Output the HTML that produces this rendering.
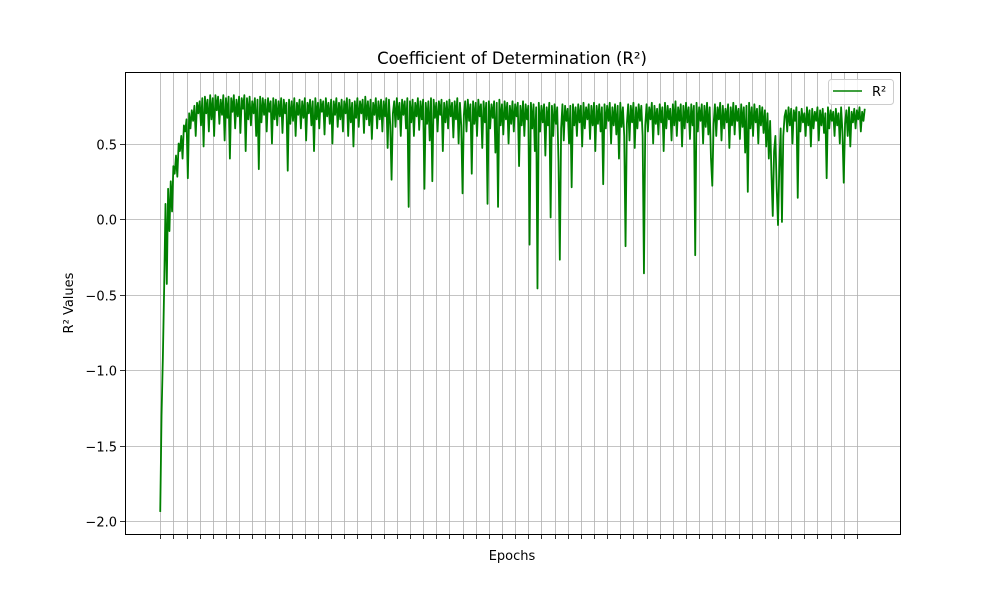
<!DOCTYPE html>
<html><head><meta charset="utf-8"><style>
html,body{margin:0;padding:0;background:#fff;}
svg{display:block;font-family:"DejaVu Sans","Liberation Sans",sans-serif;}
</style></head><body>
<svg id="chart" width="1000" height="600" viewBox="0 0 1000 600">
<rect x="0" y="0" width="1000" height="600" fill="#fff"/>
<g id="grid"></g>
<g id="series"></g>
<rect x="125.5" y="72.5" width="775" height="462" fill="none" stroke="#000" stroke-width="1"/>
<g id="ticks"></g>
<text x="512" y="64" text-anchor="middle" font-size="16.5">Coefficient of Determination (R²)</text>
<text x="512" y="560" text-anchor="middle" font-size="13">Epochs</text>
<text x="73" y="303" text-anchor="middle" font-size="13" transform="rotate(-90 73 303)">R² Values</text>
<g>
<rect x="828.5" y="79.5" width="65" height="25" rx="3" fill="#fff" fill-opacity="0.8" stroke="#ccc"/>
<line x1="833" y1="91" x2="862" y2="91" stroke="#008000" stroke-width="1.5"/>
<text x="872" y="96" font-size="13">R²</text>
</g>
</svg>
<script>
const yTicks = [0.5, 0.0, -0.5, -1.0, -1.5, -2.0];
const yTickLabels = ["0.5", "0.0", "\u22120.5", "\u22121.0", "\u22121.5", "\u22122.0"];
const xTickStep = 10;
const xTickCount = 54;
const r2Values = [
-1.94,-1.30,-0.92,-0.45,0.10,-0.43,0.20,-0.08,0.25,0.05,0.35,0.30,0.42,0.28,0.50,0.45,0.55,0.40,0.62,0.58,0.66,0.27,0.70,0.60,0.72,0.65,0.75,0.55,0.77,0.70,
0.78,0.62,0.80,0.48,0.81,0.70,0.79,0.58,0.82,0.66,
0.80,0.55,0.82,0.72,0.81,0.63,0.79,0.69,0.82,0.52,
0.80,0.67,0.81,0.40,0.80,0.71,0.82,0.60,0.79,0.68,
0.81,0.57,0.80,0.73,0.82,0.45,0.80,0.66,0.81,0.62,
0.78,0.70,0.80,0.55,0.79,0.33,0.81,0.64,0.80,0.69,
0.79,0.58,0.80,0.71,0.78,0.50,0.80,0.66,0.79,0.62,
0.78,0.68,0.80,0.57,0.79,0.70,0.77,0.32,0.79,0.63,
0.78,0.65,0.80,0.55,0.77,0.69,0.79,0.60,0.78,0.67,
0.80,0.52,0.77,0.70,0.79,0.62,0.78,0.45,0.80,0.66,
0.77,0.60,0.79,0.71,0.78,0.56,0.80,0.68,0.77,0.63,
0.79,0.50,0.78,0.69,0.80,0.61,0.77,0.66,0.79,0.58,
0.78,0.70,0.80,0.55,0.79,0.64,0.77,0.48,0.78,0.67,
0.80,0.61,0.78,0.70,0.79,0.57,0.81,0.66,0.78,0.62,
0.79,0.53,0.77,0.69,0.80,0.60,0.78,0.66,0.79,0.58,
0.78,0.68,0.80,0.47,0.79,0.62,0.26,0.70,0.78,0.61,
0.80,0.66,0.77,0.55,0.79,0.69,0.78,0.60,0.80,0.08,
0.78,0.64,0.79,0.55,0.77,0.68,0.80,0.59,0.78,0.66,
0.79,0.20,0.77,0.63,0.78,0.52,0.80,0.25,0.79,0.67,
0.77,0.58,0.78,0.69,0.79,0.45,0.77,0.64,0.78,0.60,
0.79,0.68,0.77,0.54,0.78,0.66,0.80,0.50,0.77,0.62,
0.17,0.69,0.78,0.58,0.79,0.65,0.76,0.30,0.78,0.63,
0.77,0.55,0.79,0.68,0.76,0.47,0.78,0.64,0.77,0.10,
0.78,0.60,0.76,0.67,0.78,0.44,0.77,0.08,0.79,0.62,
0.76,0.56,0.78,0.66,0.77,0.50,0.75,0.63,0.78,0.58,
0.76,0.68,0.77,0.35,0.75,0.62,0.78,0.55,0.76,0.66,
0.75,-0.17,0.77,0.60,0.76,0.45,0.74,-0.46,0.77,0.58,
0.75,0.64,0.76,0.42,0.74,0.62,0.77,0.01,0.75,0.55,
0.76,0.63,0.74,0.38,-0.27,0.60,0.76,0.52,0.75,0.65,
0.73,0.50,0.75,0.21,0.76,0.62,0.74,0.55,0.76,0.64,
0.75,0.48,0.77,0.60,0.74,0.66,0.76,0.53,0.75,0.62,
0.77,0.45,0.75,0.63,0.76,0.58,0.74,0.23,0.76,0.60,
0.75,0.65,0.77,0.50,0.74,0.62,0.76,0.56,0.75,0.40,
0.77,0.61,0.74,0.55,-0.18,0.63,0.76,0.52,0.75,0.64,
0.77,0.47,0.74,0.60,0.76,0.65,0.75,0.55,-0.36,0.62,
0.76,0.58,0.74,0.66,0.77,0.50,0.75,0.63,0.73,0.56,
0.76,0.64,0.74,0.45,0.77,0.60,0.75,0.66,0.73,0.52,
0.76,0.62,0.78,0.55,0.74,0.65,0.76,0.48,0.75,0.60,
0.77,0.64,0.74,0.53,0.76,0.62,0.75,-0.24,0.77,0.58,
0.74,0.65,0.76,0.50,0.75,0.61,0.77,0.56,0.74,0.40,
0.22,0.63,0.76,0.55,0.74,0.66,0.77,0.52,0.75,0.60,
0.73,0.64,0.76,0.47,0.74,0.62,0.77,0.56,0.75,0.65,
0.73,0.53,0.76,0.61,0.74,0.44,0.75,0.18,0.77,0.60,
0.74,0.55,0.76,0.64,0.73,0.50,0.75,0.62,0.74,0.57,
0.72,0.48,0.70,0.40,0.65,0.30,0.02,0.45,0.55,0.20,
-0.04,0.35,0.60,-0.02,0.55,0.68,0.72,0.58,0.74,0.62,
0.73,0.50,0.72,0.65,0.74,0.14,0.71,0.58,0.73,0.64,
0.70,0.55,0.74,0.62,0.72,0.48,0.73,0.60,0.71,0.65,
0.74,0.52,0.72,0.62,0.73,0.57,0.70,0.27,0.74,0.60,
0.72,0.65,0.71,0.55,0.73,0.62,0.70,0.50,0.74,0.58,
0.24,0.63,0.72,0.55,0.74,0.48,0.71,0.64,0.73,0.60,
0.72,0.66,0.74,0.58,0.71,0.65,0.73
];

const NS = "http://www.w3.org/2000/svg";
const PL = 125, PR = 900, PT = 72, PB = 534;
const n = r2Values.length;
const span = n - 1;
const xMin = -0.05 * span, xMax = span * 1.05;
function xScale(i){ return PL + (i - xMin) / (xMax - xMin) * (PR - PL); }
function yScale(v){ return 219 - v * 151; }

const grid = document.getElementById('grid');
const ticks = document.getElementById('ticks');
for (let k = 0; k < xTickCount; k++) {
  const x = Math.round(xScale(k * xTickStep)) + 0.5;
  const g = document.createElementNS(NS, 'line');
  g.setAttribute('x1', x); g.setAttribute('x2', x); g.setAttribute('y1', PT); g.setAttribute('y2', PB);
  g.setAttribute('stroke', '#b0b0b0'); g.setAttribute('stroke-width', '0.8');
  
  
  grid.appendChild(g);
  const t = document.createElementNS(NS, 'line');
  t.setAttribute('x1', x); t.setAttribute('x2', x); t.setAttribute('y1', PB); t.setAttribute('y2', PB + 5);
  t.setAttribute('stroke', '#000'); t.setAttribute('stroke-width', '0.8');
  
  
  ticks.appendChild(t);
}
yTicks.forEach((v, i) => {
  const y = Math.round(yScale(v)) + 0.5;
  const g = document.createElementNS(NS, 'line');
  g.setAttribute('x1', PL); g.setAttribute('x2', PR); g.setAttribute('y1', y); g.setAttribute('y2', y);
  g.setAttribute('stroke', '#b0b0b0'); g.setAttribute('stroke-width', '0.8');
  
  
  grid.appendChild(g);
  const t = document.createElementNS(NS, 'line');
  t.setAttribute('x1', PL - 5); t.setAttribute('x2', PL); t.setAttribute('y1', y); t.setAttribute('y2', y);
  t.setAttribute('stroke', '#000'); t.setAttribute('stroke-width', '0.8');
  
  
  ticks.appendChild(t);
  const l = document.createElementNS(NS, 'text');
  l.setAttribute('x', PL - 8); l.setAttribute('y', y + 5);
  l.setAttribute('text-anchor', 'end'); l.setAttribute('font-size', '13');
  l.textContent = yTickLabels[i];
  
  
  ticks.appendChild(l);
});

const path = document.createElementNS(NS, 'path');
let d = '';
r2Values.forEach((v, i) => { d += (i ? 'L' : 'M') + xScale(i).toFixed(2) + ',' + yScale(v).toFixed(2); });
path.setAttribute('d', d);
path.setAttribute('fill', 'none');
path.setAttribute('stroke', '#008000');
path.setAttribute('stroke-width', '1.8');
path.setAttribute('stroke-linejoin', 'round');


document.getElementById('series').appendChild(path);
</script>
</body></html>
